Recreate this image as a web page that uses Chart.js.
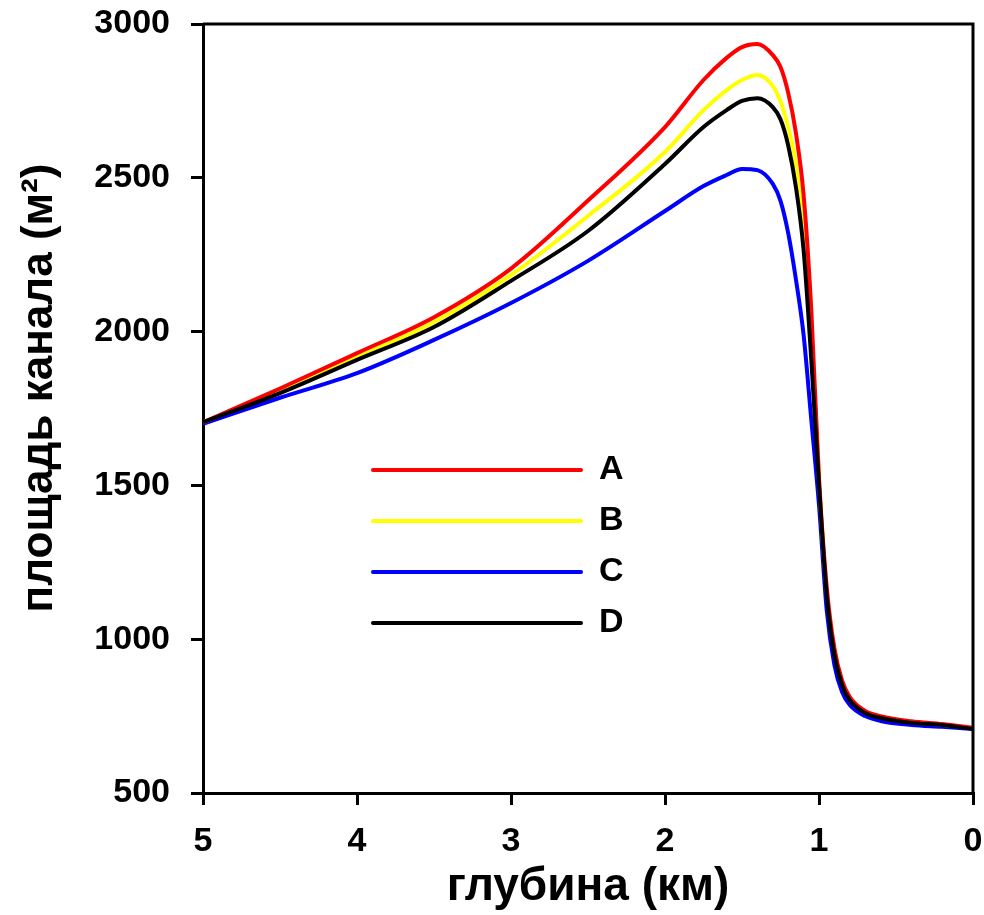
<!DOCTYPE html>
<html>
<head>
<meta charset="utf-8">
<title>площадь канала</title>
<script src="https://cdn.jsdelivr.net/npm/chart.js@4.4.1/dist/chart.umd.min.js"></script>
<style>
  html, body { margin: 0; padding: 0; background: #fff; }
</style>
</head>
<body>
<canvas id="areaChart" width="984" height="915"></canvas>
<script>
// depth along the channel (km)
const depthKm = [5, 4.5, 4, 3.5, 3, 2.5, 2, 1.75, 1.6, 1.5, 1.4, 1.3, 1.25, 1.2, 1.15, 1.1, 1.05, 1.0, 0.95, 0.9, 0.85, 0.8, 0.7, 0.6, 0.4, 0.2, 0];

// channel area (m2) per series
const seriesA = [1705, 1815, 1930, 2047, 2205, 2426, 2665, 2818, 2890, 2925, 2935, 2899, 2860, 2776, 2646, 2444, 2070, 1524, 1170, 970, 865, 812, 767, 750, 733, 724, 712];
const seriesB = [1705, 1810, 1917, 2031, 2184, 2376, 2584, 2720, 2785, 2818, 2834, 2798, 2748, 2665, 2545, 2324, 2010, 1515, 1158, 960, 858, 808, 763, 747, 730, 722, 710];
const seriesC = [1700, 1785, 1865, 1973, 2093, 2230, 2392, 2473, 2509, 2529, 2525, 2480, 2425, 2320, 2170, 1989, 1713, 1436, 1095, 916, 828, 786, 750, 734, 721, 715, 708];
const seriesD = [1705, 1800, 1908, 2015, 2165, 2327, 2545, 2665, 2720, 2750, 2759, 2730, 2690, 2605, 2470, 2265, 1908, 1501, 1144, 949, 851, 802, 760, 744, 728, 721, 708];

const seriesNames = ['A', 'B', 'C', 'D'];
const seriesColors = ['#ff0000', '#ffff00', '#0000ff', '#000000'];

const xTitle = 'глубина (км)';
const yTitle = 'площадь канала (м²)';

const FONT = '"Liberation Sans", Arial, sans-serif';
const tickFont = { family: FONT, size: 34, weight: 'bold' };
const xTitleFont = { family: FONT, size: 46, weight: 'bold' };

function toPoints(values) {
    return depthKm.map((d, i) => ({ x: d, y: values[i] }));
}

// top and right edge of the box
const framePlugin = {
    id: 'frame',
    afterDraw(chart) {
        const { ctx, chartArea: a } = chart;
        ctx.save();
        ctx.strokeStyle = '#000';
        ctx.lineWidth = 3;
        ctx.beginPath();
        ctx.moveTo(a.left, a.top);
        ctx.lineTo(a.right, a.top);
        ctx.lineTo(a.right, a.bottom);
        ctx.stroke();
        ctx.restore();
    }
};

// y title drawn by hand so it sits a bit above the middle like the original
const yTitlePlugin = {
    id: 'yTitle',
    afterDraw(chart) {
        const ctx = chart.ctx;
        ctx.save();
        ctx.translate(40, 388);
        ctx.rotate(-Math.PI / 2);
        ctx.font = 'bold 44px ' + FONT;
        ctx.fillStyle = '#000';
        ctx.textAlign = 'center';
        ctx.textBaseline = 'middle';
        ctx.fillText(yTitle, 0, 0);
        ctx.restore();
    }
};

// legend inside the plot: long line sample then the letter
const insideLegend = {
    id: 'insideLegend',
    afterDraw(chart) {
        const { ctx, chartArea: a } = chart;
        ctx.save();
        ctx.font = 'bold 34px ' + FONT;
        ctx.textAlign = 'left';
        ctx.textBaseline = 'middle';
        chart.data.datasets.forEach((ds, i) => {
            const y = a.top + 446 + i * 51;
            ctx.strokeStyle = ds.borderColor;
            ctx.lineWidth = 4;
            ctx.lineCap = 'round';
            ctx.beginPath();
            ctx.moveTo(a.left + 170, y);
            ctx.lineTo(a.left + 378, y);
            ctx.stroke();
            ctx.fillStyle = '#000';
            ctx.fillText(ds.label, a.left + 396, y);
        });
        ctx.restore();
    }
};

const allSeries = [seriesA, seriesB, seriesC, seriesD];
const drawOrder = [1, 2, 3, 0]; // black on top

new Chart(document.getElementById('areaChart'), {
    type: 'line',
    data: {
        datasets: allSeries.map((s, i) => ({
            label: seriesNames[i],
            data: toPoints(s),
            borderColor: seriesColors[i],
            backgroundColor: seriesColors[i],
            borderWidth: 4,
            pointRadius: 0,
            fill: false,
            cubicInterpolationMode: 'monotone',
            order: drawOrder[i]
        }))
    },
    options: {
        responsive: false,
        animation: false,
        devicePixelRatio: 1,
        layout: { padding: { top: 24, right: 11, left: 0, bottom: 0 } },
        plugins: {
            legend: { display: false },
            tooltip: { enabled: false }
        },
        scales: {
            x: {
                type: 'linear',
                reverse: true,
                min: 0,
                max: 5,
                border: { color: '#000', width: 3 },
                grid: { display: true, drawOnChartArea: false, drawTicks: true, tickLength: 12, color: '#000', lineWidth: 3 },
                ticks: { stepSize: 1, padding: 16, color: '#000', font: tickFont, callback: v => String(v) },
                title: { display: true, text: xTitle, color: '#000', font: xTitleFont, padding: { top: 0, bottom: 0 } },
                afterFit(scale) {
                    scale.height = 122;
                    scale.paddingLeft = 0;
                    scale.paddingRight = 0;
                }
            },
            y: {
                type: 'linear',
                min: 500,
                max: 3000,
                border: { color: '#000', width: 3 },
                grid: { display: true, drawOnChartArea: false, drawTicks: true, tickLength: 12, color: '#000', lineWidth: 3 },
                ticks: { stepSize: 500, padding: 21, color: '#000', font: tickFont, callback: v => String(v) },
                title: { display: false },
                afterFit(scale) {
                    scale.width = 203;
                    scale.paddingTop = 0;
                    scale.paddingBottom = 0;
                }
            }
        }
    },
    plugins: [framePlugin, yTitlePlugin, insideLegend]
});
</script>
</body>
</html>
